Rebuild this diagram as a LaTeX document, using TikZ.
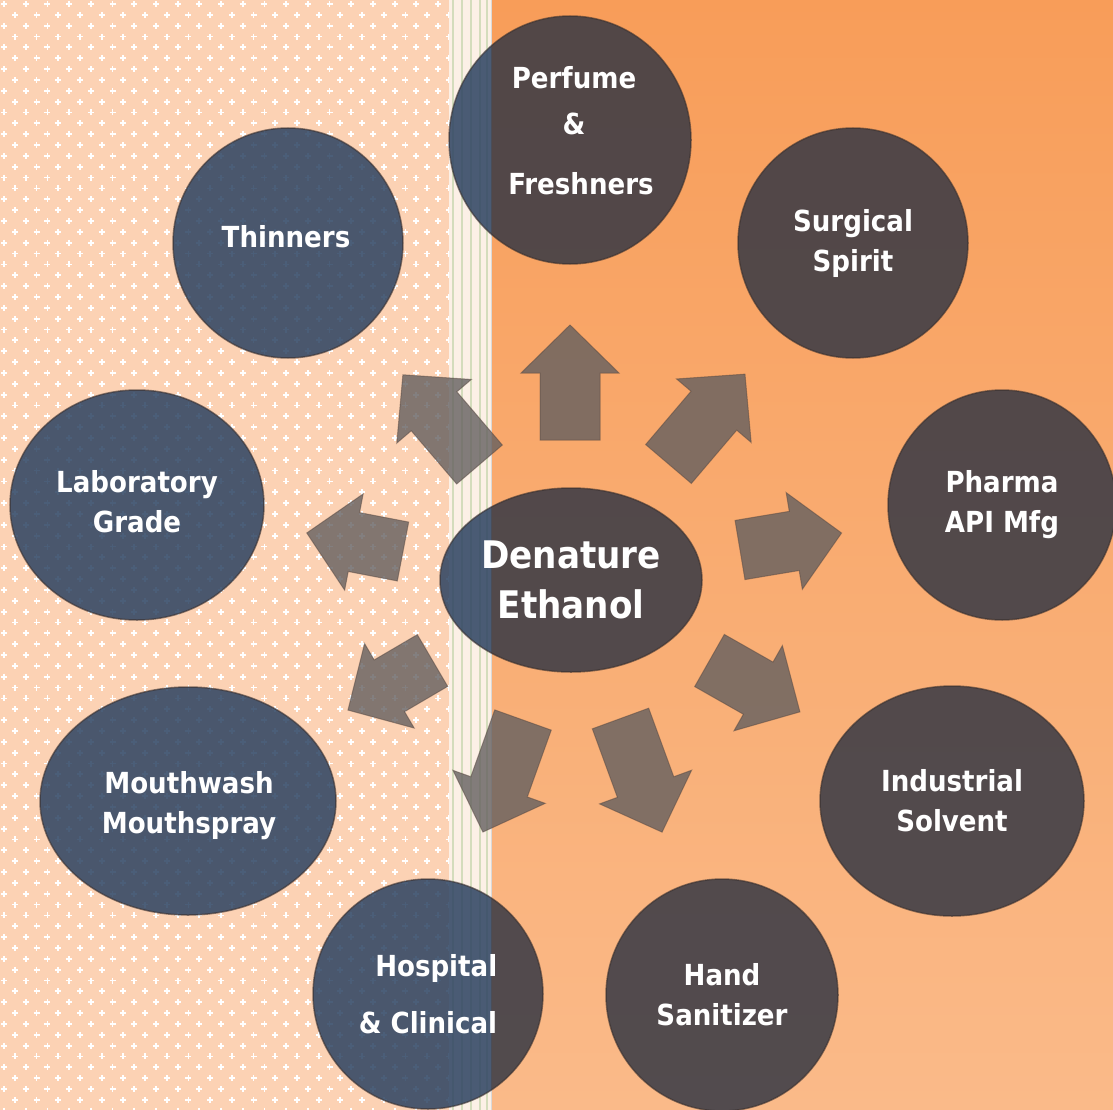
\documentclass[tikz,border=0pt]{standalone}
\usepackage{fontspec}
\setmainfont{DejaVu Sans Condensed}
\usetikzlibrary{shapes.geometric}
\definecolor{peach}{HTML}{FCD2B4}
\definecolor{bandbg}{HTML}{FCF0E6}
\definecolor{bandline}{HTML}{D4DCBC}
\definecolor{orTop}{HTML}{F89D59}
\definecolor{orMid}{HTML}{F79848}
\definecolor{orBot}{HTML}{FABA89}
\definecolor{bubL}{RGB}{44,66,97}
\definecolor{bubR}{RGB}{53,56,68}
\definecolor{rim}{HTML}{3A302E}
\definecolor{arrowc}{RGB}{100,95,95}
\definecolor{arrowedge}{HTML}{5A4A42}
\newcommand\bubfill[4]{%
  \begin{scope}\clip (0,0) rectangle (491,1110);
    \fill[bubL, fill opacity=0.85] (#1,#2) ellipse [x radius=#3, y radius=#4];\end{scope}
  \begin{scope}\clip (491,0) rectangle (1113,1110);
    \fill[bubR, fill opacity=0.85] (#1,#2) ellipse [x radius=#3, y radius=#4];\end{scope}}
\newcommand\blockarrow[4]{% tail x, tail y, angle, length
  \pgfmathsetmacro\hb{#4-48}%
  \begin{scope}[shift={(#1,#2)}, rotate=#3]
    \path[blockarr] (0,-30) -- (\hb,-30) -- (\hb,-49) -- (#4,0) -- (\hb,49) -- (\hb,30) -- (0,30) -- cycle;
  \end{scope}}
\begin{document}
\begin{tikzpicture}[x=1pt,y=-1pt,
  bubble/.style={ellipse, draw=rim, draw opacity=0.6, line width=1.5pt, inner sep=0pt,
    text=white, align=center, font=\bfseries\fontsize{29}{40}\selectfont},
  lbl/.style={text=white, align=center, inner sep=0pt, font=\bfseries\fontsize{29}{40}\selectfont},
  blockarr/.style={fill=arrowc, fill opacity=0.8, draw=arrowedge, draw opacity=0.5, line width=1pt, line join=miter},
  cross/.style={draw=white, line width=1.8pt}]
\useasboundingbox (0,0) rectangle (1113,1110);
\clip (0,0) rectangle (1113,1110);
% backgrounds
\fill[peach] (0,0) rectangle (449,1110);
\path[cross] \foreach \j in {0,...,102}{ \foreach \i in {0,...,21}{
   ({\i*21.7+mod(\j,2)*10.85+4},{\j*10.85+4}) +(-3,0) -- +(3,0) +(0,-3) -- +(0,3) } };
\fill[bandbg] (449,0) rectangle (491,1110);
\foreach \xx in {453,462,471,480,487} \draw[bandline, line width=2.2pt] (\xx,0) -- (\xx,1110);
\shade[top color=orTop, middle color=orMid, bottom color=orBot] (491,0) rectangle (1113,1110);
\draw[black!15, line width=0.8pt] (491,0) -- (491,1110);
% bubble fills
\bubfill{570}{140}{121}{124}
\bubfill{288}{243}{115}{115}
\bubfill{853}{243}{115}{115}
\bubfill{137}{505}{127}{115}
\bubfill{1002}{505}{114}{115}
\bubfill{571}{580}{131}{92}
\bubfill{188}{801}{148}{114}
\bubfill{952}{801}{132}{115}
\bubfill{428}{994}{115}{115}
\bubfill{722}{995}{116}{116}
% bubbles with text
\node[bubble, minimum width=242pt, minimum height=248pt] (perfume) at (570,140) {};
\node[lbl] (perfumetext) at (574,131) {Perfume\\[6pt]\&\\[20pt]\hspace*{14pt}Freshners};
\node[bubble, minimum width=230pt, minimum height=230pt] (thinners) at (288,243) {};
\node[lbl] (thinnerstext) at (286,237) {Thinners};
\node[bubble, minimum width=230pt, minimum height=230pt] (surgical) at (853,243) {Surgical\\Spirit};
\node[bubble, minimum width=254pt, minimum height=230pt] (lab) at (137,505) {};
\node[lbl] (labtext) at (137,502) {Laboratory\\Grade};
\node[bubble, minimum width=228pt, minimum height=230pt] (pharma) at (1002,505) {Pharma\\API Mfg};
\node[bubble, minimum width=262pt, minimum height=184pt, font=\bfseries\fontsize{38}{50}\selectfont] (center) at (571,580) {Denature\\Ethanol};
\node[bubble, minimum width=296pt, minimum height=228pt] (mouth) at (188,801) {};
\node[lbl] (mouthtext) at (189,806) {Mouthwash\\Mouthspray};
\node[bubble, minimum width=264pt, minimum height=230pt] (industrial) at (952,801) {Industrial\\Solvent};
\node[bubble, minimum width=230pt, minimum height=230pt, align=right, font=\bfseries\fontsize{29}{57}\selectfont] (hospital) at (428,994) {Hospital\\\& Clinical};
\node[bubble, minimum width=232pt, minimum height=232pt] (hand) at (722,995) {Hand\\Sanitizer};
% block arrows
\blockarrow{570}{440}{90}{115}
\blockarrow{668.5}{464}{49.6}{118}
\blockarrow{740}{550}{9.5}{103}
\blockarrow{709.5}{660.5}{-29.6}{104}
\blockarrow{620.5}{718.5}{-69.9}{121}
\blockarrow{523}{720}{-109.7}{119}
\blockarrow{432.5}{660.5}{-149.6}{98}
\blockarrow{403}{551.5}{169.1}{98}
\blockarrow{479.5}{464.5}{130.5}{118}
\end{tikzpicture}
\end{document}
